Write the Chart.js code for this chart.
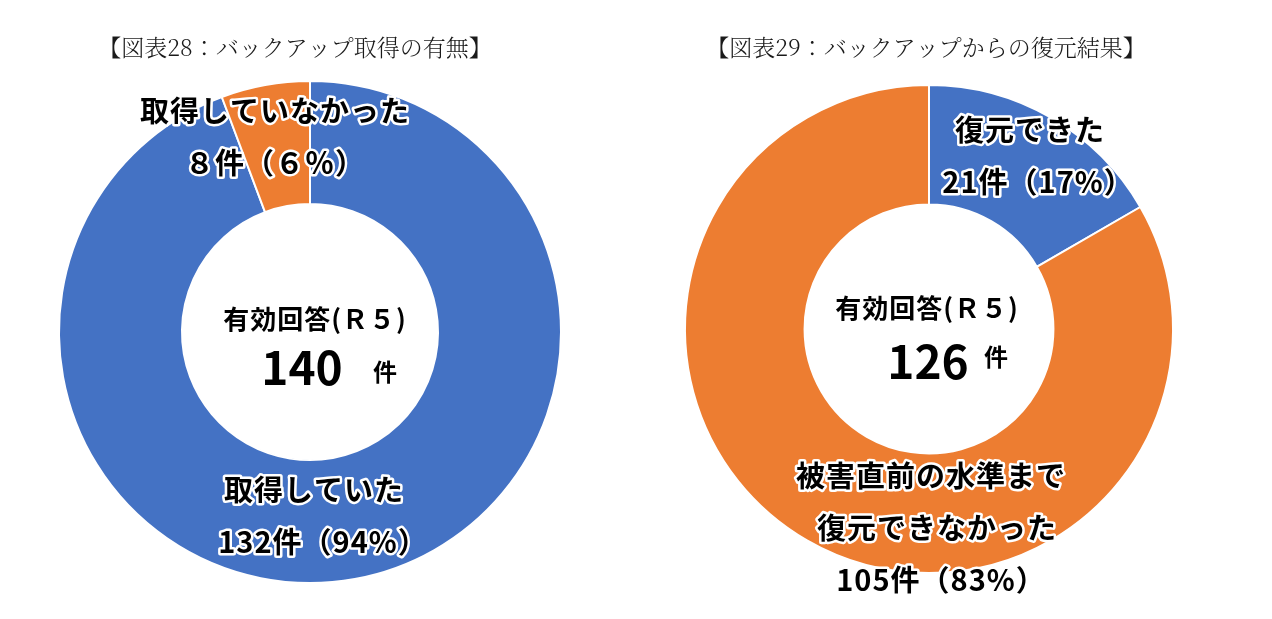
<!DOCTYPE html>
<html lang="ja">
<head>
<meta charset="utf-8">
<title>バックアップ取得の有無 / 復元結果</title>
<script src="https://cdn.jsdelivr.net/npm/chart.js@4.4.1/dist/chart.umd.min.js"></script>
<style>
  html, body { margin: 0; padding: 0; background: #fff; }
  .pane { position: absolute; top: 0; width: 636px; height: 619px; }
  #leftPane { left: 0; }
  #rightPane { left: 636px; }
</style>
</head>
<body>
<div class="pane" id="leftPane"><canvas id="backupChart"></canvas></div>
<div class="pane" id="rightPane"><canvas id="restoreChart"></canvas></div>
<script>
// 図表28: バックアップ取得の有無
const backupCategories = ['取得していた', '取得していなかった'];
const backupCounts = [132, 8];
const backupLabelLines = [['取得していた', '132件（94%）'], ['取得していなかった', '８件（６％）']];

// 図表29: バックアップからの復元結果
const restoreCategories = ['復元できた', '被害直前の水準まで復元できなかった'];
const restoreCounts = [21, 105];
const restoreLabelLines = [['復元できた', '21件（17%）'], ['被害直前の水準まで', '復元できなかった', '105件（83%）']];

const BLUE = '#4472C4';
const ORANGE = '#ED7D31';
const SANS = '"Noto Sans CJK JP", "Noto Sans", sans-serif';
const SERIF = '"Noto Serif CJK JP", "Noto Sans CJK JP", serif';

const sum = arr => arr.reduce((a, b) => a + b, 0);

// draws title, outlined segment labels and the centre total
const doughnutText = {
  id: 'doughnutText',
  afterDraw(chart, args, opts) {
    const arc = chart.getDatasetMeta(0).data[0];
    const cx = arc.x, cy = arc.y;
    const ctx = chart.ctx;
    ctx.save();
    ctx.textAlign = 'center';
    ctx.textBaseline = 'middle';

    ctx.font = `300 23px ${SERIF}`;
    ctx.fillStyle = '#1a1a1a';
    ctx.fillText(opts.title, cx + opts.titleDx, opts.titleY);

    ctx.font = `bold 29px ${SANS}`;
    ctx.letterSpacing = '1px';
    ctx.lineJoin = 'round';
    ctx.lineWidth = 5;
    ctx.strokeStyle = '#fff';
    ctx.fillStyle = '#000';
    opts.lines.forEach((lines, i) => {
      const [dx, dy] = opts.labelPos[i];
      lines.forEach((t, j) => {
        const x = cx + dx + (opts.lineShift[i][j] || 0);
        const y = cy + dy + j * 52;
        ctx.strokeText(t, x, y);
        ctx.fillText(t, x, y);
      });
    });

    const c = opts.center;
    ctx.font = `bold 26px ${SANS}`;
    ctx.fillText('有効回答(Ｒ５)', cx + c.head[0], cy + c.head[1]);
    ctx.letterSpacing = '0px';
    ctx.font = `bold 46px ${SANS}`;
    ctx.fillText(String(opts.total), cx + c.num[0], cy + c.num[1]);
    ctx.font = `bold 24px ${SANS}`;
    ctx.fillText('件', cx + c.unit[0], cy + c.unit[1]);
    ctx.restore();
  }
};

function makeDoughnut(id, categories, counts, colors, padding, text) {
  return new Chart(document.getElementById(id), {
    type: 'doughnut',
    data: {
      labels: categories,
      datasets: [{
        data: counts,
        backgroundColor: colors,
        borderColor: '#fff',
        borderWidth: 2,
        hoverOffset: 0
      }]
    },
    options: {
      responsive: true,
      maintainAspectRatio: false,
      animation: false,
      cutout: '51%',
      layout: { padding },
      plugins: {
        legend: { display: false },
        tooltip: { enabled: false },
        doughnutText: text
      }
    },
    plugins: [doughnutText]
  });
}

makeDoughnut('backupChart', backupCategories, backupCounts, [BLUE, ORANGE],
  { left: 58, right: 74, top: 80, bottom: 35 },
  {
    title: '【図表28：バックアップ取得の有無】', titleDx: -15, titleY: 47,
    lines: backupLabelLines,
    labelPos: [[4, 158], [-35, -221]],
    lineShift: [[0, 9], [0, 0]],
    total: sum(backupCounts),
    center: { head: [5, -13], num: [-8, 36], unit: [75, 40] }
  });

makeDoughnut('restoreChart', restoreCategories, restoreCounts, [BLUE, ORANGE],
  { left: 47, right: 97, top: 84, bottom: 45 },
  {
    title: '【図表29：バックアップからの復元結果】', titleDx: -3, titleY: 47,
    lines: restoreLabelLines,
    labelPos: [[101, -199], [2, 147]],
    lineShift: [[0, 8], [0, 6, 10]],
    total: sum(restoreCounts),
    center: { head: [-2, -21], num: [-1, 33], unit: [67, 28] }
  });
</script>
</body>
</html>
